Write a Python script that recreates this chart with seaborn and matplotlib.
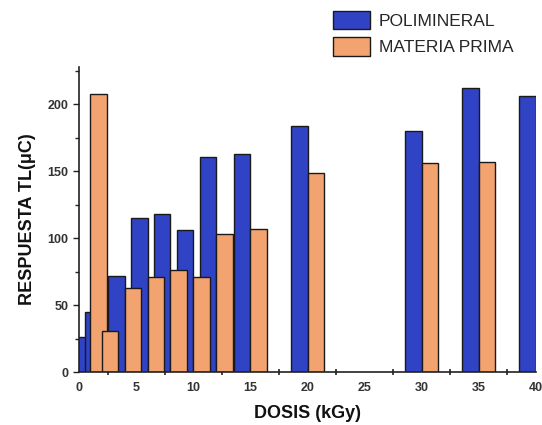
import matplotlib
matplotlib.use("Agg")
import matplotlib.pyplot as plt
import matplotlib.ticker as mticker
import numpy as np
import pandas as pd
import seaborn as sns

# Dose (kGy) and thermoluminescence response (µC) for each sample type
dosis_polimineral = [1, 2, 4, 6, 8, 10, 12, 15, 20, 30, 35, 40]
resp_polimineral = [26, 45, 72, 115, 118, 106, 161, 163, 184, 180, 212, 206]

dosis_materia = [1, 2, 4, 6, 8, 10, 12, 15, 20, 30, 35]
resp_materia = [208, 31, 63, 71, 76, 71, 103, 107, 149, 156, 157]

series_names = ["POLIMINERAL", "MATERIA PRIMA"]
series_colors = ["#2f43c4", "#f2a36f"]
x_tick_labels = [0, 5, 10, 15, 20, 25, 30, 35, 40]
y_tick_labels = [0, 50, 100, 150, 200]

df = pd.concat([
    pd.DataFrame({"dosis": dosis_polimineral, "resp": resp_polimineral, "serie": series_names[0]}),
    pd.DataFrame({"dosis": dosis_materia, "resp": resp_materia, "serie": series_names[1]}),
], ignore_index=True)

sns.set_theme(style="white")
plt.rcParams["font.family"] = ["Liberation Sans", "DejaVu Sans"]

fig = plt.figure(figsize=(5.42, 4.25), dpi=100)
ax = fig.add_axes([0.1458, 0.1247, 0.989 - 0.1458, 0.8424 - 0.1247])

sns.barplot(data=df, x="dosis", y="resp", hue="serie", hue_order=series_names,
            palette=series_colors, native_scale=True, dodge=True, width=2.9,
            gap=0, errorbar=None, edgecolor="#1a1a1a", linewidth=1.0,
            saturation=1, ax=ax)

ax.set_xlim(0, 40)
ax.set_ylim(0, 228)

# labels sit at every 5 kGy, tick marks halfway between them
ax.set_xticks(x_tick_labels)
ax.set_xticklabels([str(v) for v in x_tick_labels], fontsize=9, fontweight="bold", color="#333333")
ax.xaxis.set_minor_locator(mticker.FixedLocator(np.arange(2.5, 40, 5)))
ax.tick_params(axis="x", which="major", length=0, pad=7)
ax.tick_params(axis="x", which="minor", length=5, width=1.2, direction="inout", bottom=True, color="#222222")

ax.set_yticks(y_tick_labels)
ax.set_yticklabels([str(v) for v in y_tick_labels], fontsize=9, fontweight="bold", color="#333333")
ax.yaxis.set_minor_locator(mticker.MultipleLocator(25))
ax.tick_params(axis="y", which="major", length=4, width=1.0, direction="out", left=True, color="#222222")
ax.tick_params(axis="y", which="minor", length=3, width=1.0, direction="out", left=True, color="#222222")

for side in ["top", "right"]:
    ax.spines[side].set_visible(False)
for side in ["left", "bottom"]:
    ax.spines[side].set_color("#222222")
    ax.spines[side].set_linewidth(1.2)

ax.set_xlabel("DOSIS (kGy)", fontsize=13, fontweight="bold", color="#111111", labelpad=8)
ax.set_ylabel("RESPUESTA TL(\u03bcC)", fontsize=13, fontweight="bold", color="#111111", labelpad=8)

ax.get_legend().remove()
handles = [plt.Rectangle((0, 0), 1, 1, facecolor=c, edgecolor="#1a1a1a", linewidth=1.0) for c in series_colors]
fig.legend(handles, series_names, loc="upper left", bbox_to_anchor=(333 / 542, 1 - 11 / 425),
           frameon=False, fontsize=12.5, handlelength=2.15, handleheight=1.25,
           handletextpad=0.5, labelspacing=0.45, borderpad=0, borderaxespad=0)

fig.savefig("out.png", dpi=100)
